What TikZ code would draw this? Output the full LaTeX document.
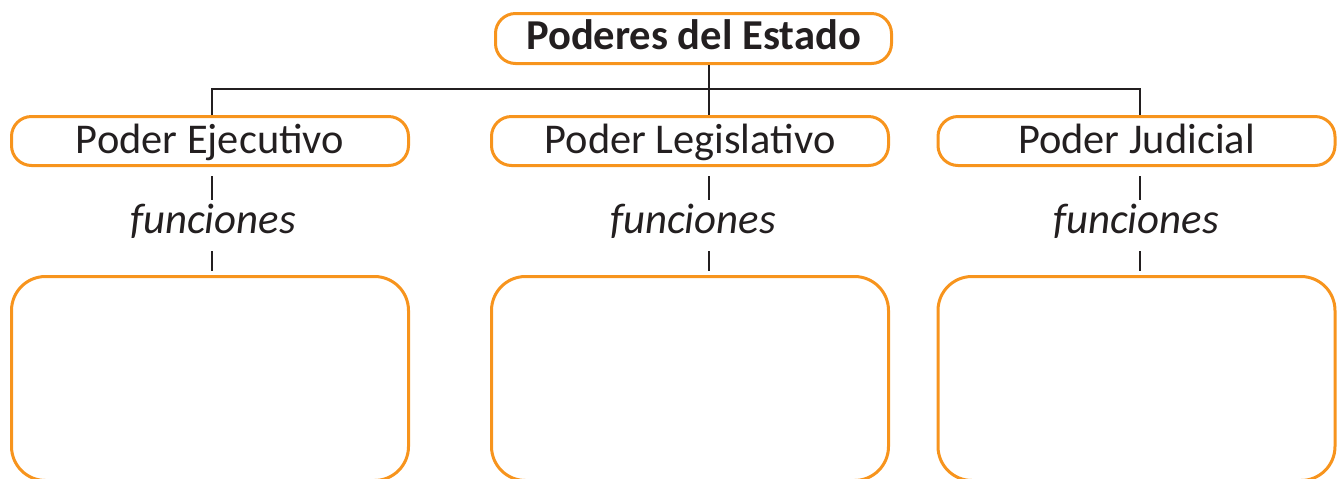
\documentclass[tikz,border=0pt]{standalone}
\usepackage{fontspec}
\setmainfont{Carlito}
\usetikzlibrary{positioning}
\definecolor{naranja}{HTML}{F7941D}
\definecolor{tinta}{HTML}{231F20}

\begin{document}
\begin{tikzpicture}[x=0.5pt, y=-0.5pt, font=\fontsize{21.2}{26}\selectfont, text=tinta,
    titulo/.style={draw=naranja, line width=1.5pt, rounded corners=10pt, minimum width=198pt, minimum height=25pt, inner sep=0pt, text height=14pt, text depth=3.2pt, font=\fontsize{21.3}{26}\selectfont\bfseries},
    poder/.style={draw=naranja, line width=1.5pt, rounded corners=10pt, minimum width=198.5pt, minimum height=24.5pt, inner sep=0pt, text height=15pt, text depth=3pt},
    funcion/.style={minimum height=25.5pt, inner sep=0pt, text height=11pt, text depth=3.5pt, font=\fontsize{21.4}{26}\selectfont\itshape},
    tarea/.style={draw=naranja, line width=1.5pt, rounded corners=17pt, minimum width=198.5pt, minimum height=102pt, inner sep=0pt},
    guion/.style={draw=tinta, line width=1.2pt}]
    \useasboundingbox (0,0) rectangle (1341,478);
    \clip (0,0) rectangle (1341,478);
    \node[titulo] (estado) at (693.5,38.5) {Poderes del Estado};
    \foreach \n/\cx/\lx/\tx/\name in {ejec/210/212/213/Poder Ejecutivo,legi/690/709/693/Poder Legislativo,juri/1136.5/1140/1136/Poder Judicial}{
        \node[poder] (\n) at (\cx,141) {\name};
        \node[funcion] (f\n) at (\tx,225.5) {funciones};
        \node[tarea] (t\n) at (\cx,378.5) {};
        \coordinate (l\n) at (\lx,89);
        \draw[guion, shorten <=4.5pt] (l\n |- \n.south) -- (l\n |- f\n.north);
        \draw[guion, shorten >=2pt] (l\n |- f\n.south) -- (l\n |- t\n.north);
    }
    % ramas del titulo
    \draw[guion] (llegi |- estado.south) -- (llegi |- legi.north);
    \draw[guion] (lejec |- ejec.north) -- (lejec) -- (ljuri) -- (ljuri |- juri.north);
\end{tikzpicture}
\end{document}
